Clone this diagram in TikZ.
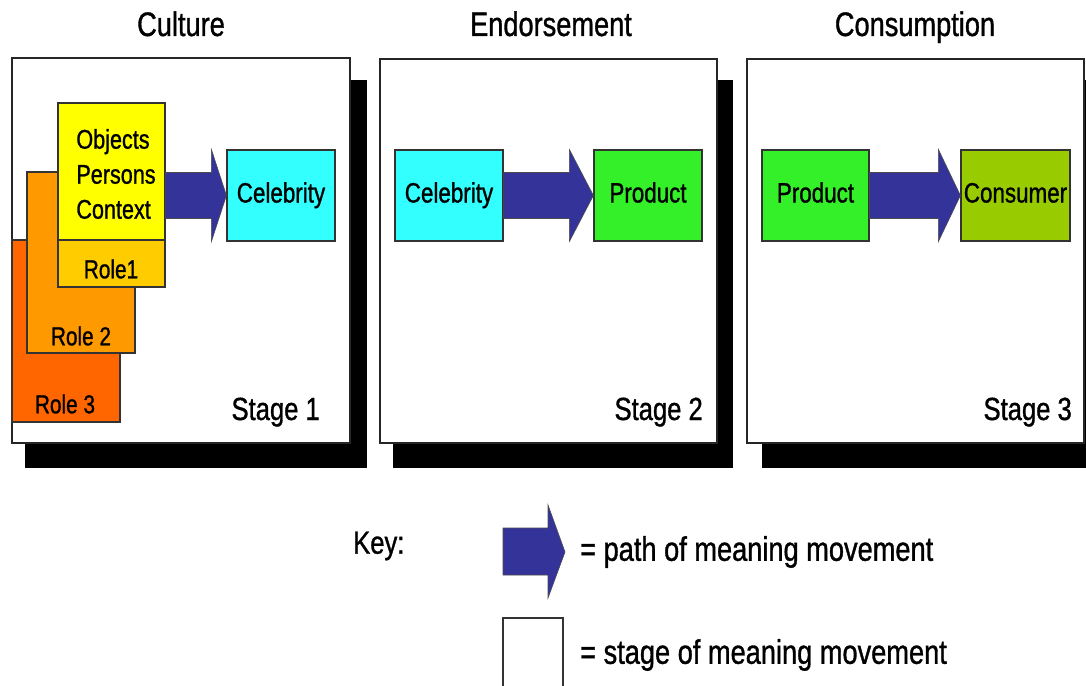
\documentclass[tikz,border=0pt]{standalone}
\usepackage{fontspec}
\setmainfont{Liberation Sans}[FakeStretch=0.8,FakeBold=1]
\usetikzlibrary{calc}
\definecolor{arrowblue}{RGB}{51,51,153}
\definecolor{celebcyan}{RGB}{51,255,255}
\definecolor{prodgreen}{RGB}{51,240,40}
\definecolor{consgreen}{RGB}{153,204,0}
\definecolor{objyellow}{RGB}{255,255,0}
\definecolor{roleone}{RGB}{255,204,0}
\definecolor{roletwo}{RGB}{255,153,0}
\definecolor{rolethree}{RGB}{255,102,0}
\newcommand\meaningarrow[3]{%
  \fill[arrowblue, draw=black!70, line width=0.6pt]
    let \p1=(#1.east), \p2=(#2.west) in
    (\x1,\y2+23pt) -- (\x2-#3pt,\y2+23pt) -- (\x2-#3pt,\y2+46pt) -- (\x2,\y2)
    -- (\x2-#3pt,\y2-46pt) -- (\x2-#3pt,\y2-23pt) -- (\x1,\y2-23pt) -- cycle;}
\begin{document}
\begin{tikzpicture}[x=1pt,y=-1pt,
  frame/.style={draw=black!85, fill=white, line width=1.2pt, inner sep=0pt},
  shadowbox/.style={fill=black},
  colbox/.style={draw=black!80, line width=1.2pt, inner sep=0pt, minimum height=91pt,
    text height=20pt, text depth=6pt, font=\fontsize{28}{32}\selectfont},
  rolebox/.style={draw=black!80, line width=1.2pt, inner sep=0pt},
  roletext/.style={font=\fontsize{26}{30}\selectfont, inner sep=0pt},
  titletext/.style={font=\fontsize{34}{38}\selectfont, inner sep=0pt, anchor=base},
  stagetext/.style={font=\fontsize{32}{36}\selectfont, inner sep=0pt, anchor=base east},
  keytext/.style={font=\fontsize{34}{38}\selectfont, inner sep=0pt, anchor=west}]
\useasboundingbox (0,0) rectangle (1086,685);
\fill[white] (0,0) rectangle (1086,685);

% titles
\node[titletext] (t1) at (181,36) {Culture};
\node[titletext] (t2) at (551,36) {Endorsement};
\node[titletext] (t3) at (915,36) {Consumption};

% shadows and frames
\fill[shadowbox] (25,80) rectangle (367,468);
\fill[shadowbox] (393,80) rectangle (733,468);
\fill[shadowbox] (762,80) rectangle (1100,468);
\node[frame, minimum width=338pt, minimum height=385pt] (p1) at (181,250.5) {};
\node[frame, minimum width=337pt, minimum height=384pt] (p2) at (548.5,251) {};
\node[frame, minimum width=337pt, minimum height=384pt] (p3) at (915.5,251) {};

% stage 1 stack
\node[rolebox, fill=rolethree, minimum width=108pt, minimum height=182pt] (r3) at (66,331) {};
\node[rolebox, fill=roletwo, minimum width=108pt, minimum height=181pt] (r2) at (81,262.5) {};
\node[rolebox, fill=roleone, minimum width=107pt, minimum height=184pt] (r1) at (111.5,195) {};
\node[rolebox, fill=objyellow, minimum width=107pt, minimum height=137pt] (obj) at (111.5,171.5) {};
\node[roletext] (r3t) at (65,404) {Role 3};
\node[roletext] (r2t) at (81,336) {Role 2};
\node[roletext] (r1t) at (111,269) {Role1};
\node[font=\fontsize{27}{35}\selectfont, align=left, inner sep=0pt] (objt) at (116,174)
  {Objects\\Persons\\Context};

\node[colbox, fill=celebcyan, minimum width=108pt] (c1) at (281,195.5) {Celebrity};
\meaningarrow{obj}{c1}{15}

% stage 2
\node[colbox, fill=celebcyan, minimum width=108pt] (c2) at (449,195.5) {Celebrity};
\node[colbox, fill=prodgreen, minimum width=108pt] (pr2) at (648,195.5) {Product};
\meaningarrow{c2}{pr2}{24}

% stage 3
\node[colbox, fill=prodgreen, minimum width=107pt] (pr3) at (815.5,195.5) {Product};
\node[colbox, fill=consgreen, minimum width=109pt] (cons) at (1015.5,195.5) {Consumer};
\meaningarrow{pr3}{cons}{22}

% stage labels
\node[stagetext] (s1) at (320,420) {Stage 1};
\node[stagetext] (s2) at (703,420) {Stage 2};
\node[stagetext] (s3) at (1072,420) {Stage 3};

% key
\node[font=\fontsize{32}{36}\selectfont, inner sep=0pt, anchor=west] (key) at (353,546) {Key:};
\fill[arrowblue, draw=black!70, line width=0.6pt]
  (503,528) -- (548,528) -- (548,505) -- (565,552) -- (548,598) -- (548,575) -- (503,575) -- cycle;
\node[keytext] (k1) at (580,552) {= path of meaning movement};
\node[draw=black!80, line width=1.2pt, fill=white, minimum width=60pt, minimum height=90pt, inner sep=0pt]
  (ksq) at (533,663) {};
\node[keytext] (k2) at (580,655) {= stage of meaning movement};
\end{tikzpicture}
\end{document}
